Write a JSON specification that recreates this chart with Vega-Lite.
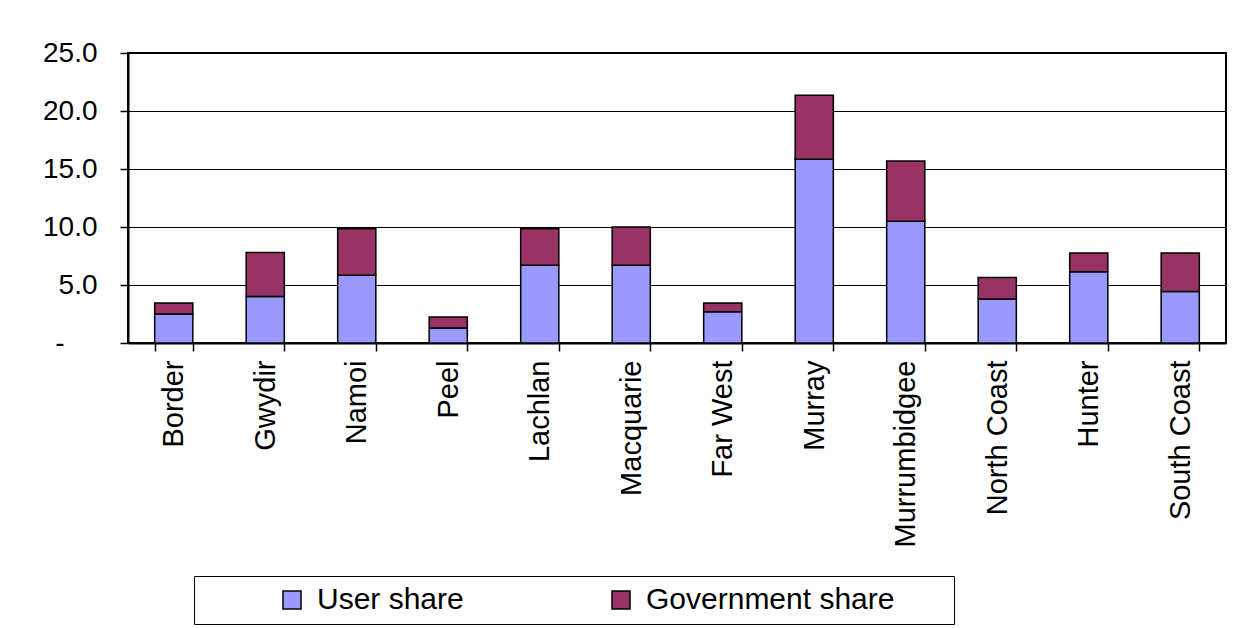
{
  "$schema": "https://vega.github.io/schema/vega-lite/v6.json",
  "autosize": "none",
  "width": 1098,
  "height": 290,
  "padding": {"left": 128, "top": 53, "right": 20, "bottom": 285},
  "background": "white",
  "data": {
    "values": [
      {"region": "Border", "share": "User share", "value": 2.5, "order": 1},
      {"region": "Border", "share": "Government share", "value": 0.95, "order": 2},
      {"region": "Gwydir", "share": "User share", "value": 4.0, "order": 1},
      {"region": "Gwydir", "share": "Government share", "value": 3.8, "order": 2},
      {"region": "Namoi", "share": "User share", "value": 5.85, "order": 1},
      {"region": "Namoi", "share": "Government share", "value": 4.0, "order": 2},
      {"region": "Peel", "share": "User share", "value": 1.3, "order": 1},
      {"region": "Peel", "share": "Government share", "value": 0.95, "order": 2},
      {"region": "Lachlan", "share": "User share", "value": 6.7, "order": 1},
      {"region": "Lachlan", "share": "Government share", "value": 3.15, "order": 2},
      {"region": "Macquarie", "share": "User share", "value": 6.7, "order": 1},
      {"region": "Macquarie", "share": "Government share", "value": 3.3, "order": 2},
      {"region": "Far West", "share": "User share", "value": 2.7, "order": 1},
      {"region": "Far West", "share": "Government share", "value": 0.75, "order": 2},
      {"region": "Murray", "share": "User share", "value": 15.85, "order": 1},
      {"region": "Murray", "share": "Government share", "value": 5.5, "order": 2},
      {"region": "Murrumbidgee", "share": "User share", "value": 10.5, "order": 1},
      {"region": "Murrumbidgee", "share": "Government share", "value": 5.2, "order": 2},
      {"region": "North Coast", "share": "User share", "value": 3.8, "order": 1},
      {"region": "North Coast", "share": "Government share", "value": 1.85, "order": 2},
      {"region": "Hunter", "share": "User share", "value": 6.15, "order": 1},
      {"region": "Hunter", "share": "Government share", "value": 1.6, "order": 2},
      {"region": "South Coast", "share": "User share", "value": 4.45, "order": 1},
      {"region": "South Coast", "share": "Government share", "value": 3.3, "order": 2}
    ]
  },
  "mark": {"type": "bar", "stroke": "black", "strokeWidth": 1.5},
  "encoding": {
    "x": {
      "field": "region",
      "type": "nominal",
      "sort": null,
      "scale": {"paddingInner": 0.583, "paddingOuter": 0.2915},
      "axis": {
        "title": null,
        "tickBand": "extent",
        "tickSize": 8,
        "tickWidth": 1.5,
        "tickColor": "black",
        "domainColor": "black",
        "domainWidth": 2,
        "labelAngle": 270,
        "labelPadding": 9,
        "labelFontSize": 29,
        "labelColor": "black",
        "labelLimit": 300
      }
    },
    "y": {
      "field": "value",
      "type": "quantitative",
      "stack": "zero",
      "scale": {"domain": [0, 25], "nice": false},
      "axis": {
        "title": null,
        "values": [0, 5, 10, 15, 20, 25],
        "labelExpr": "datum.value == 0 ? '-' : format(datum.value, '.1f')",
        "grid": true,
        "gridColor": "black",
        "gridWidth": 1.2,
        "gridOpacity": 1,
        "domainColor": "black",
        "domainWidth": 2,
        "tickColor": "black",
        "tickSize": 8,
        "tickWidth": 1.5,
        "labelPadding": {"condition": {"test": "datum.value == 0", "value": 56}, "value": 23},
        "labelFontSize": 28,
        "labelColor": "black"
      }
    },
    "color": {
      "field": "share",
      "type": "nominal",
      "scale": {"domain": ["User share", "Government share"], "range": ["#9999FF", "#993366"]},
      "legend": {
        "title": null,
        "orient": "none",
        "legendX": 66,
        "legendY": 523,
        "direction": "horizontal",
        "columns": 2,
        "strokeColor": "black",
        "fillColor": "white",
        "padding": 9,
        "symbolType": "square",
        "symbolSize": 324,
        "symbolStrokeColor": "black",
        "symbolStrokeWidth": 1.5,
        "symbolOpacity": 1,
        "symbolOffset": 74,
        "labelFontSize": 30,
        "labelColor": "black",
        "labelOffset": 10,
        "labelLimit": 400,
        "labelExpr": "datum.label == 'Government share' ? datum.label + '\u00a0\u00a0\u00a0\u00a0\u00a0\u00a0\u200b' : datum.label",
        "columnPadding": 68
      }
    },
    "order": {"field": "order", "type": "quantitative"}
  },
  "config": {
    "view": {"stroke": "black", "strokeWidth": 2},
    "font": "Liberation Sans"
  }
}
